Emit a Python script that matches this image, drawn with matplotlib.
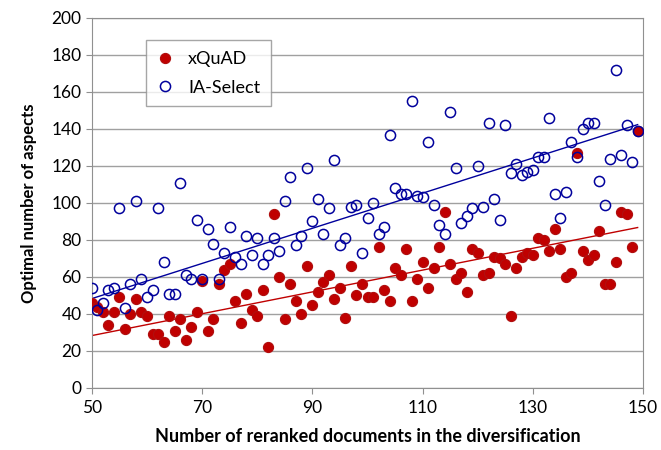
import matplotlib.pyplot as plt
import numpy as np

# Número de documentos reordenados (eje x)
docs = np.arange(50, 150)

xquad = [46, 44, 41, 34, 41, 49, 32, 40, 48, 41,
         39, 29, 29, 25, 39, 31, 37, 26, 33, 41,
         58, 31, 37, 56, 64, 67, 47, 35, 51, 42,
         39, 53, 22, 94, 60, 37, 56, 47, 40, 66,
         45, 52, 57, 61, 48, 54, 38, 66, 50, 56,
         49, 49, 76, 53, 47, 65, 61, 75, 47, 59,
         68, 54, 65, 76, 95, 67, 59, 62, 52, 75,
         73, 61, 62, 71, 70, 67, 39, 65, 71, 73,
         72, 81, 80, 74, 86, 75, 60, 62, 127, 74,
         69, 72, 85, 56, 56, 68, 95, 94, 76, 139]

ia_select = [54, 42, 46, 53, 54, 97, 43, 56, 101, 59,
             49, 53, 97, 68, 51, 51, 111, 61, 59, 91,
             59, 86, 78, 59, 73, 87, 71, 67, 82, 72,
             81, 67, 72, 81, 74, 101, 114, 77, 82, 119,
             90, 102, 83, 97, 123, 77, 81, 98, 99, 73,
             92, 100, 83, 87, 137, 108, 105, 105, 155, 104,
             103, 133, 99, 88, 83, 149, 119, 89, 93, 97,
             120, 98, 143, 102, 91, 142, 116, 121, 115, 117,
             118, 125, 125, 146, 105, 92, 106, 133, 125, 140,
             143, 143, 112, 99, 124, 172, 126, 142, 122, 139]

# Líneas de tendencia: (pendiente, valor en x=50)
trend_xquad = (0.59, 28.3)
trend_ia = (0.95, 48.3)

RED = "#C00000"
BLUE = "#00009C"

plt.rcParams["font.family"] = ["Lato", "DejaVu Sans"]

fig = plt.figure(figsize=(6.61, 4.5), dpi=100)
ax = fig.add_axes([0.139, 0.138, 0.834, 0.822])

ax.plot(docs, xquad, "o", ms=7.3, mfc=RED, mec="#B01010", mew=0.8,
        label="xQuAD", zorder=3)
ax.plot(docs, ia_select, "o", ms=7.3, mfc="none", mec=BLUE, mew=1.1,
        label="IA-Select", zorder=3)

xx = np.array([docs[0], docs[-1]])
ax.plot(xx, trend_xquad[1] + trend_xquad[0] * (xx - 50), color=RED, lw=1.0, zorder=2)
ax.plot(xx, trend_ia[1] + trend_ia[0] * (xx - 50), color=BLUE, lw=1.0, zorder=2)

ax.set_xlim(50, 150)
ax.set_ylim(0, 200)
ax.set_xticks(range(50, 151, 20))
ax.set_yticks(range(0, 201, 20))
ax.yaxis.grid(True, color="#A0A0A0", lw=1.0)
ax.set_axisbelow(True)
for s in ax.spines.values():
    s.set_color("#909090")
ax.tick_params(axis="both", colors="#909090", labelcolor="black",
               labelsize=12.5, length=4)
ax.tick_params(axis="x", pad=5)

ax.set_xlabel("Number of reranked documents in the diversification",
              fontsize=13, fontweight="bold", labelpad=8)
ax.set_ylabel("Optimal number of aspects", fontsize=12, fontweight="bold",
              labelpad=10)

leg = ax.legend(loc="upper left", bbox_to_anchor=(0.099, 0.94), fontsize=13,
                frameon=True, fancybox=False, edgecolor="#909090",
                handlelength=0.8, handletextpad=0.9, borderpad=0.6,
                labelspacing=0.7, borderaxespad=0)
leg.get_frame().set_linewidth(1.0)

fig.savefig("out.png", dpi=100)
plt.close(fig)
